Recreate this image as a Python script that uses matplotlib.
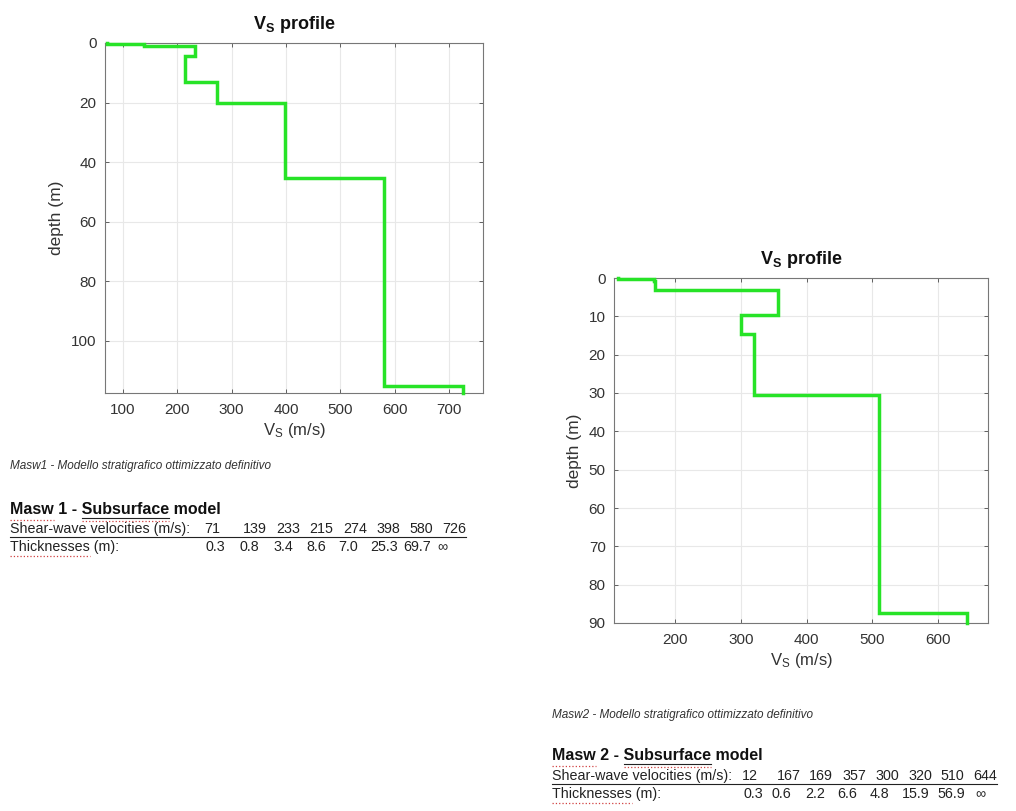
import numpy as np
import matplotlib
matplotlib.use('Agg')
import matplotlib.pyplot as plt
from matplotlib.lines import Line2D

#-----Data-----#
vs1 = [71, 139, 233, 215, 274, 398, 580, 726]
th1 = [0.3, 0.8, 3.4, 8.6, 7.0, 25.3, 69.7]
vs2 = [112, 167, 169, 357, 300, 320, 510, 644]
th2 = [0.3, 0.6, 2.2, 6.6, 4.8, 15.9, 56.9]

vs1_txt = ['71', '139', '233', '215', '274', '398', '580', '726']
th1_txt = ['0.3', '0.8', '3.4', '8.6', '7.0', '25.3', '69.7', '\u221e']
vs2_txt = ['12', '167', '169', '357', '300', '320', '510', '644']
th2_txt = ['0.3', '0.6', '2.2', '6.6', '4.8', '15.9', '56.9', '\u221e']

xticks1 = [100, 200, 300, 400, 500, 600, 700]
yticks1 = [0, 20, 40, 60, 80, 100]
xticks2 = [200, 300, 400, 500, 600]
yticks2 = [0, 10, 20, 30, 40, 50, 60, 70, 80, 90]

#-----Style-----#
plt.rcParams['font.family'] = ['Liberation Sans', 'DejaVu Sans']
plt.rcParams['mathtext.fontset'] = 'custom'
plt.rcParams['mathtext.rm'] = 'Liberation Sans'
plt.rcParams['mathtext.bf'] = 'Liberation Sans:bold'
plt.rcParams['mathtext.it'] = 'Liberation Sans:italic'

W, H = 1016, 811
fig = plt.figure(figsize=(W / 100, H / 100), dpi=100)
GREEN = '#27e327'
AXC = '#4a4a4a'


def profile(rect, vs, th, ymax, xticks, yticks):
    ax = fig.add_axes(rect)
    edges = np.concatenate([[0], np.cumsum(th), [ymax]])
    x = np.repeat(vs, 2)
    y = np.repeat(edges, 2)[1:-1]
    ax.plot(x, y, color=GREEN, lw=2.5, clip_on=False, zorder=3,
            solid_joinstyle='miter')
    ax.set_xlim(min(vs) * 0.95, max(vs) * 1.05)
    ax.set_ylim(ymax, 0)
    ax.set_xticks(xticks)
    ax.set_yticks(yticks)
    ax.grid(True, color='#e8e8e8', lw=0.8)
    ax.set_axisbelow(True)
    ax.tick_params(direction='in', length=3, width=0.6, colors=AXC,
                   labelsize=11, labelcolor='#333333', top=True, right=True,
                   labeltop=False, labelright=False)
    ax.tick_params(axis='x', pad=7)
    ax.tick_params(axis='y', pad=6)
    for s in ax.spines.values():
        s.set_color('#777777')
        s.set_linewidth(0.8)
    ax.set_title(r'V$_\mathbf{S}$ profile', fontsize=13, fontweight='bold',
                 color='#111111', pad=10)
    ax.set_xlabel(r'V$_\mathregular{S}$ (m/s)', fontsize=12, color='#333333',
                  labelpad=3)
    ax.set_ylabel('depth (m)', fontsize=12.5, color='#333333', labelpad=5)
    return ax


ax1 = profile([105 / W, 1 - 393 / H, 378 / W, 350 / H], vs1, th1, 117.6,
              xticks1, yticks1)
ax2 = profile([614 / W, 1 - 623 / H, 374 / W, 345 / H], vs2, th2, 90,
              xticks2, yticks2)

renderer = fig.canvas.get_renderer()


def px(x, y):
    return x / W, 1 - y / H


def width(s, **kw):
    t = fig.text(0, 0, s, **kw)
    w = t.get_window_extent(renderer).width
    t.remove()
    return w


def hline(x0, x1, y, color='#222222', lw=0.8, ls='-'):
    fig.add_artist(Line2D([x0 / W, x1 / W], [1 - y / H, 1 - y / H],
                          color=color, lw=lw, ls=ls))


def table(x0, ycap, yhead, yrow1, yrow2, name, cap, vcols, tcols, vtxt, ttxt):
    fig.text(*px(x0, ycap), cap, fontsize=8.5, style='italic',
             color='#333333', va='center')
    hk = dict(fontsize=11.5, fontweight='bold')
    fig.text(*px(x0, yhead), name + ' - Subsurface model', color='#111111',
             va='center', **hk)
    rk = dict(fontsize=10.3)
    fig.text(*px(x0, yrow1), 'Shear-wave velocities (m/s):', color='#222222',
             va='center', **rk)
    fig.text(*px(x0, yrow2), 'Thicknesses (m):', color='#222222',
             va='center', **rk)
    for xc, t in zip(vcols, vtxt):
        fig.text(*px(xc, yrow1), t, color='#222222', va='center', **rk)
    for xc, t in zip(tcols, ttxt):
        fig.text(*px(xc, yrow2), t, color='#222222', va='center', **rk)
    # underlines and spell-check marks, placed from measured text widths
    sp = width('M M', **hk) - width('MM', **hk)
    w_masw = width('Masw', **hk)
    s0 = x0 + width(name + ' -', **hk) + sp
    s1 = s0 + width('Subsurface', **hk)
    w_last = width(vtxt[-1], **rk)
    w_th = width('Thicknesses', **rk)
    hline(x0, vcols[-1] + w_last, yrow1 + 8)
    hline(s0, s1, yhead + 8)
    hline(x0, x0 + w_masw, yhead + 10, color='#d04040', lw=0.9, ls=':')
    hline(s0, s1, yhead + 10.5, color='#d04040', lw=0.9, ls=':')
    hline(x0, x0 + w_th, yrow2 + 9, color='#d04040', lw=0.9, ls=':')


table(10, 466, 510, 529, 547, 'Masw 1',
      'Masw1 - Modello stratigrafico ottimizzato definitivo',
      [204, 243, 276, 309, 343, 376, 409, 442],
      [205, 239, 273, 306, 338, 370, 403, 437], vs1_txt, th1_txt)
table(552, 715, 756, 776, 794, 'Masw 2',
      'Masw2 - Modello stratigrafico ottimizzato definitivo',
      [742, 777, 809, 842, 875, 908, 940, 973],
      [744, 772, 805, 837, 870, 902, 937, 975], vs2_txt, th2_txt)

fig.savefig('out.png', dpi=100, facecolor='white')
